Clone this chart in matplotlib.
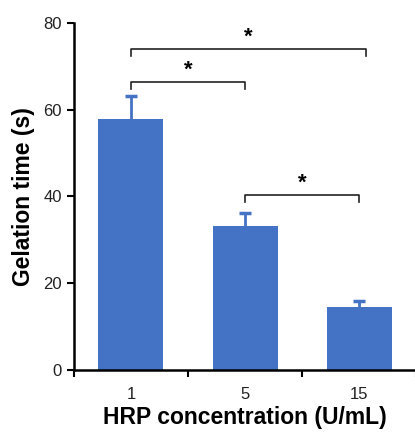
import matplotlib.pyplot as plt
import numpy as np

plt.rcParams["font.family"] = ["Liberation Sans", "DejaVu Sans"]

categories = ["1", "5", "15"]
gelation_time = [57.7, 33.2, 14.6]
error_up = [5.5, 3.0, 1.3]

# significance brackets: (left index, right index, height)
brackets = [(0, 2, 74.0), (0, 1, 66.4), (1, 2, 40.4)]

bar_color = "#4472C4"

fig = plt.figure(figsize=(4.15, 4.32), dpi=100)
ax = fig.add_axes([0.178, 0.1435, 0.825, 0.804])

x = np.arange(len(categories))
ax.bar(x, gelation_time, width=0.57, color=bar_color, zorder=2)
_, caps, _ = ax.errorbar(x, gelation_time, yerr=[np.zeros(len(x)), error_up], fmt="none",
                         ecolor=bar_color, elinewidth=2, capsize=4, capthick=2.5, zorder=3)
caps[0].set_visible(False)

for i, j, h in brackets:
    xl = x[i]
    xr = x[j] + (0.06 if j - i == 2 else 0)
    ax.plot([xl, xl, xr, xr], [h - 1.6, h, h, h - 1.6], color="#222222", lw=1.2,
            clip_on=False, zorder=4)
    ax.text((xl + xr) / 2, h + 0.2, "*", ha="center", va="bottom", fontsize=16,
            fontweight="bold")

ax.set_xlim(-0.5, len(categories) - 0.5)
ax.set_ylim(0, 80)
ax.set_yticks([0, 20, 40, 60, 80])
ax.set_xticks(x)
ax.set_xticklabels(categories)
ax.set_xticks(np.arange(len(categories) + 1) - 0.5, minor=True)
ax.tick_params(axis="x", which="major", length=0, pad=12, labelsize=12, labelcolor="#222222")
ax.tick_params(axis="x", which="minor", length=5, width=1.5, direction="out")
ax.tick_params(axis="y", length=5, width=1.5, labelsize=12, labelcolor="#222222")

for side in ["top", "right"]:
    ax.spines[side].set_visible(False)
for side in ["left", "bottom"]:
    ax.spines[side].set_linewidth(1.8)

ax.set_xlabel("HRP concentration (U/mL)", fontsize=16.5, fontweight="bold", labelpad=3)
ax.set_ylabel("Gelation time (s)", fontsize=16.5, fontweight="bold", labelpad=6)

fig.savefig("out.png", dpi=100)
